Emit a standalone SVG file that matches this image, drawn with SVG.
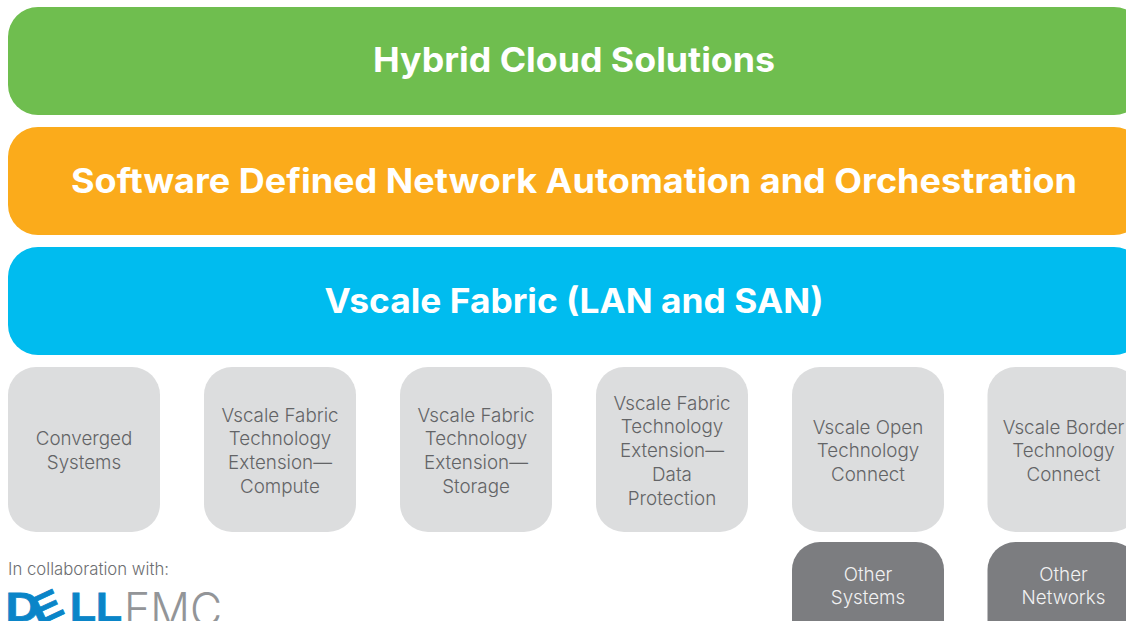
<svg xmlns="http://www.w3.org/2000/svg" width="1126" height="621" viewBox="0 0 1126 621">
<style>
text{font-family:"Inter","Liberation Sans",sans-serif;text-anchor:middle}
.bar{font-size:34px;font-weight:700;fill:#fff}
.box{fill:#dcddde}
.dark{fill:#7c7d80}
.l{font-size:18.8px;fill:#636466;font-weight:300}
.w{font-size:18.8px;fill:#f1f1f2;font-weight:300}
.logo{font-family:"Liberation Sans",sans-serif;font-weight:700;fill:#0a85c8;font-size:40px;text-anchor:start;stroke:#0a85c8;stroke-width:.8}
</style>
<rect width="1126" height="621" fill="#fff"/>
<g id="hybrid"><rect x="8" y="7" width="1136" height="108" rx="30" fill="#6fbe4f"/><text class="bar" x="574" y="71.500" textLength="402" lengthAdjust="spacingAndGlyphs">Hybrid Cloud Solutions</text></g>
<g id="sdn"><rect x="8" y="127" width="1136" height="108" rx="30" fill="#fbab1b"/><text class="bar" x="574" y="192.500" textLength="1006" lengthAdjust="spacingAndGlyphs">Software Defined Network Automation and Orchestration</text></g>
<g id="fabric"><rect x="8" y="247" width="1136" height="108" rx="30" fill="#00bcef"/><text class="bar" x="574" y="312.500" textLength="499" lengthAdjust="spacingAndGlyphs">Vscale Fabric (LAN and SAN)</text></g>
<g id="converged"><rect class="box" x="8" y="367" width="152" height="165" rx="28"/><text class="l" x="84" y="445">Converged</text><text class="l" x="84" y="469">Systems</text></g>
<g id="compute"><rect class="box" x="204" y="367" width="152" height="165" rx="28"/><text class="l" x="280" y="421.500">Vscale Fabric</text><text class="l" x="280" y="445">Technology</text><text class="l" x="280" y="469">Extension—</text><text class="l" x="280" y="493">Compute</text></g>
<g id="storage"><rect class="box" x="400" y="367" width="152" height="165" rx="28"/><text class="l" x="476" y="421.500">Vscale Fabric</text><text class="l" x="476" y="445">Technology</text><text class="l" x="476" y="469">Extension—</text><text class="l" x="476" y="493">Storage</text></g>
<g id="protection"><rect class="box" x="596" y="367" width="152" height="165" rx="28"/><text class="l" x="672" y="409.500">Vscale Fabric</text><text class="l" x="672" y="433">Technology</text><text class="l" x="672" y="457">Extension—</text><text class="l" x="672" y="481">Data</text><text class="l" x="672" y="505">Protection</text></g>
<g id="open"><rect class="box" x="792" y="367" width="152" height="165" rx="28"/><text class="l" x="868" y="433.500">Vscale Open</text><text class="l" x="868" y="457">Technology</text><text class="l" x="868" y="481">Connect</text></g>
<g id="border"><rect class="box" x="987.500" y="367" width="152" height="165" rx="28"/><text class="l" x="1063.500" y="433.500">Vscale Border</text><text class="l" x="1063.500" y="457">Technology</text><text class="l" x="1063.500" y="481">Connect</text></g>
<g id="systems"><rect class="dark" x="792" y="542" width="152" height="110" rx="28"/><text class="w" x="868" y="581">Other</text><text class="w" x="868" y="604">Systems</text></g>
<g id="networks"><rect class="dark" x="987.500" y="542" width="152" height="110" rx="28"/><text class="w" x="1063.500" y="581">Other</text><text class="w" x="1063.500" y="604">Networks</text></g>
<text x="8" y="574.500" style="font-size:17px;fill:#6d6e71;font-weight:300;text-anchor:start" textLength="161" lengthAdjust="spacingAndGlyphs">In collaboration with:</text>
<g id="logo">
<text class="logo" x="5.500" y="621" textLength="34" lengthAdjust="spacingAndGlyphs">D</text>
<text class="logo" x="0" y="0" transform="translate(38 626) rotate(-25)" textLength="31" lengthAdjust="spacingAndGlyphs">E</text>
<text class="logo" x="70" y="621" textLength="52" lengthAdjust="spacingAndGlyphs">LL</text>
<text x="124" y="626" textLength="98" lengthAdjust="spacingAndGlyphs" style="font-weight:300;font-size:46px;fill:#939598;text-anchor:start">EMC</text>
</g>
</svg>
